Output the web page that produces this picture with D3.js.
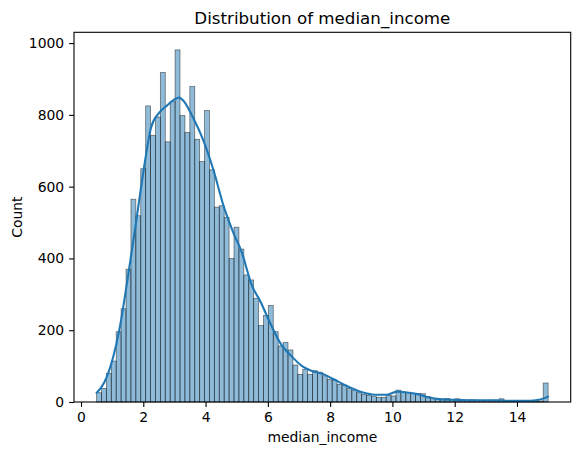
<!DOCTYPE html>
<html>
<head>
<meta charset="utf-8">
<title>Distribution of median_income</title>
<script src="https://cdnjs.cloudflare.com/ajax/libs/d3/7.8.5/d3.min.js"></script>
<style>
  body { margin: 0; background: #fff; }
  text { font-family: "DejaVu Sans", sans-serif; fill: #000; }
</style>
</head>
<body>
<div id="chart"></div>
<script>
// histogram: 92 equal bins between min and max of median_income
var binMin = 0.4999, binMax = 15.0001, binCount = 92;
var counts = [
  26, 38, 80, 114, 196, 260, 370, 565, 519, 650,
  825, 743, 794, 918, 725, 837, 981, 798, 751, 879,
  732, 670, 812, 647, 543, 547, 514, 400, 487, 426,
  354, 340, 289, 213, 241, 269, 196, 156, 166, 145,
  103, 77, 91, 77, 87, 83, 73, 63, 61, 49,
  47, 38, 33, 26, 21, 18, 15, 13, 13, 18,
  17, 33, 28, 26, 24, 24, 23, 15, 10, 9,
  8, 10, 7, 9, 6, 5, 6, 5, 4, 4,
  5, 4, 9, 4, 3, 3, 3, 2, 3, 2,
  3, 53
];
// kde curve (x, count)
var kdeX = [0.5, 0.75, 1.0, 1.25, 1.5, 1.75, 2.0, 2.25, 2.5, 2.75, 3.0, 3.15, 3.3, 3.6, 3.9,
            4.25, 4.6, 4.9, 5.15, 5.5, 5.75, 6.0, 6.4, 6.8, 7.1, 7.4, 7.8, 8.1, 8.5, 9.0,
            9.5, 9.8, 10.15, 10.4, 10.8, 11.1, 11.5, 12.0, 12.5, 13.0, 13.5, 14.0, 14.4, 14.7, 15.0];
var kdeY = [25, 55, 115, 210, 345, 490, 640, 765, 805, 825, 843, 848, 838, 792, 735,
            647, 540, 470, 420, 322, 282, 234, 164, 124, 100, 87, 77, 64, 46, 28,
            20, 20, 29, 27, 22, 14, 8, 6, 5, 5, 4, 3, 3, 6, 15];
var xTicks = [0, 2, 4, 6, 8, 10, 12, 14];
var yTicks = [0, 200, 400, 600, 800, 1000];

var W = 580, H = 455;
var mLeft = 74, mRight = 570.7, mTop = 32.3, mBottom = 402;

var binW = (binMax - binMin) / binCount;
var bins = counts.map(function(c, i) {
  return {x0: binMin + i * binW, x1: binMin + (i + 1) * binW, n: c};
});

var pad = (binMax - binMin) * 0.05;
var x = d3.scaleLinear().domain([binMin - pad, binMax + pad]).range([mLeft, mRight]);
var yMax = d3.max(counts) * 1.05;
var y = d3.scaleLinear().domain([0, yMax]).range([mBottom, mTop]);

var svg = d3.select('#chart').append('svg')
  .attr('width', W).attr('height', H);

// bars
svg.append('g').selectAll('rect')
  .data(bins)
  .enter()
  .append('rect')
  .attr('x', function(d) { return x(d.x0); })
  .attr('y', function(d) { return y(d.n); })
  .attr('width', function(d) { return x(d.x1) - x(d.x0); })
  .attr('height', function(d) { return y(0) - y(d.n); })
  .attr('fill', '#1f77b4')
  .attr('fill-opacity', 0.5)
  .attr('stroke', '#000')
  .attr('stroke-opacity', 0.5)
  .attr('stroke-width', 0.8);

// kde line
var kde = kdeX.map(function(v, i) { return [v, kdeY[i]]; });
var line = d3.line()
  .x(function(d) { return x(d[0]); })
  .y(function(d) { return y(d[1]); })
  .curve(d3.curveMonotoneX);
svg.append('path')
  .datum(kde)
  .attr('d', line)
  .attr('fill', 'none')
  .attr('stroke', '#1f77b4')
  .attr('stroke-width', 2.1)
  .attr('stroke-linecap', 'round');

// axes
var xAxis = d3.axisBottom(x).tickValues(xTicks).tickSize(4.9).tickPadding(4.9).tickSizeOuter(0);
var yAxis = d3.axisLeft(y).tickValues(yTicks).tickFormat(d3.format('d'))
  .tickSize(4.9).tickPadding(4.9).tickSizeOuter(0);

var gx = svg.append('g').attr('transform', 'translate(0,' + mBottom + ')').call(xAxis);
var gy = svg.append('g').attr('transform', 'translate(' + mLeft + ',0)').call(yAxis);
[gx, gy].forEach(function(g) {
  g.select('.domain').remove();
  g.selectAll('line').attr('stroke', '#000').attr('stroke-width', 1.1);
  g.selectAll('text').style('font-size', '13.9px').attr('fill', '#000');
});

// spines
svg.append('rect')
  .attr('x', mLeft).attr('y', mTop)
  .attr('width', mRight - mLeft).attr('height', mBottom - mTop)
  .attr('fill', 'none').attr('stroke', '#000').attr('stroke-width', 1.1);

// labels
svg.append('text')
  .attr('x', (mLeft + mRight) / 2).attr('y', 24)
  .attr('text-anchor', 'middle')
  .style('font-size', '16.7px')
  .text('Distribution of median_income');

svg.append('text')
  .attr('x', (mLeft + mRight) / 2).attr('y', 442)
  .attr('text-anchor', 'middle')
  .style('font-size', '13.9px')
  .text('median_income');

svg.append('text')
  .attr('transform', 'translate(22,' + ((mTop + mBottom) / 2) + ') rotate(-90)')
  .attr('text-anchor', 'middle')
  .style('font-size', '13.9px')
  .text('Count');
</script>
</body>
</html>
